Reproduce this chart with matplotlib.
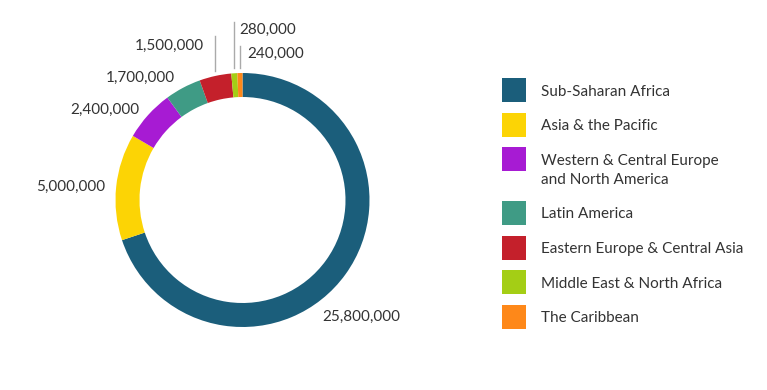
import numpy as np
import matplotlib.pyplot as plt
from matplotlib.patches import Rectangle

plt.rcParams['font.family'] = ['Lato', 'DejaVu Sans']

# data
regions = ["Sub-Saharan Africa", "Asia & the Pacific",
           "Western & Central Europe\nand North America", "Latin America",
           "Eastern Europe & Central Asia", "Middle East & North Africa",
           "The Caribbean"]
people = [25800000, 5000000, 2400000, 1700000, 1500000, 280000, 240000]
colors = ["#1b5e7b", "#fcd405", "#a71bd3", "#3f9b85", "#c4202b", "#a4ce15", "#fe8819"]

W, H = 767, 390
fig = plt.figure(figsize=(W / 100, H / 100), dpi=100)
ax = fig.add_axes([0, 0, 1, 1])

cx, cy, R = 242.5, H - 200, 127
wedges, _ = ax.pie(people, colors=colors, startangle=90, counterclock=False,
                   radius=R, center=(cx, cy),
                   wedgeprops=dict(width=24, linewidth=0))
ax.set_xlim(0, W)
ax.set_ylim(0, H)
ax.axis('off')

# label layout (pixels from top-left), alignment, top of leader line
label_layout = [
    (322, 316.5, 'left', None),
    (105, 186.5, 'right', None),
    (139, 109.5, 'right', None),
    (175, 77.5, 'right', None),
    (204, 45.5, 'right', 36),
    (239, 29.5, 'left', 22),
    (247, 53.5, 'left', 46),
]
for w, v, (lx, ly, ha, top) in zip(wedges, people, label_layout):
    ax.text(lx, H - ly, f"{v:,}", ha=ha, va='center', fontsize=11, color='#333333')
    if top is not None:
        mid = np.deg2rad((w.theta1 + w.theta2) / 2)
        x = cx + R * np.cos(mid)
        y0 = cy + R * np.sin(mid) + 5
        ax.plot([x, x], [y0, H - top], color='#aaaaaa', lw=1)

# legend
y = 90
for name, c in zip(regions, colors):
    ax.add_patch(Rectangle((502, H - y - 12), 24, 24, facecolor=c, edgecolor='none'))
    for k, line in enumerate(name.split('\n')):
        ax.text(541, H - y - 1.5 - 19.5 * k, line, ha='left', va='center',
                fontsize=11, color='#333333')
    y += 34.5 + 19.5 * name.count('\n')

fig.savefig("out.png", dpi=100)
